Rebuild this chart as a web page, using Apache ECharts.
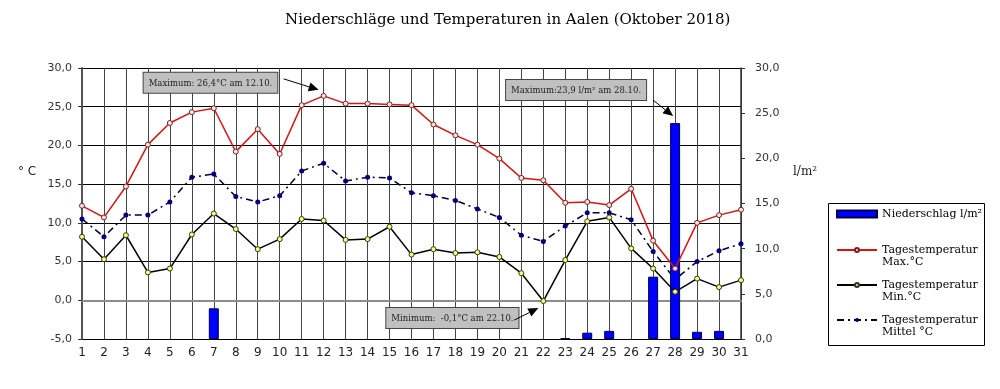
<!DOCTYPE html>
<html><head><meta charset="utf-8">
<script src="https://cdn.jsdelivr.net/npm/echarts@6/dist/echarts.min.js"></script>
<style>html,body{margin:0;padding:0;background:#fff}#c{width:1000px;height:389px}</style>
</head><body><div id="c"></div>
<script>
const days = ['1','2','3','4','5','6','7','8','9','10','11','12','13','14','15','16','17','18','19','20','21','22','23','24','25','26','27','28','29','30','31'];
const precip = [null,null,null,null,null,null,3.4,null,null,null,null,null,null,null,null,null,null,null,null,null,null,null,0.1,0.7,0.9,null,6.9,23.9,0.8,0.9,null];
const tMax = [12.2,10.7,14.7,20.1,22.9,24.3,24.8,19.2,22.1,18.9,25.2,26.4,25.4,25.4,25.3,25.2,22.7,21.3,20.1,18.3,15.8,15.5,12.6,12.7,12.3,14.4,7.7,4.1,10.0,11.0,11.7];
const tMin = [8.2,5.3,8.4,3.6,4.1,8.5,11.2,9.2,6.6,7.9,10.5,10.3,7.8,7.9,9.5,5.9,6.6,6.1,6.2,5.6,3.5,-0.1,5.2,10.2,10.7,6.7,4.1,1.1,2.8,1.7,2.6];
const tMean = [10.5,8.2,11.0,11.0,12.7,15.9,16.3,13.4,12.7,13.5,16.7,17.7,15.4,15.9,15.8,13.9,13.5,12.9,11.8,10.7,8.4,7.6,9.6,11.3,11.3,10.4,6.3,2.7,5.0,6.4,7.3];
const names = ['Niederschlag l/m²','Tagestemperatur\nMax.°C','Tagestemperatur\nMin.°C','Tagestemperatur\nMittel °C'];

const fmt = v => v.toFixed(1).replace('.', ',');
const chart = echarts.init(document.getElementById('c'));
const serif = 'DejaVu Serif';
const sans = 'DejaVu Sans';

chart.setOption({
  animation: false,
  backgroundColor: '#fff',
  title: {
    text: 'Niederschläge und Temperaturen in Aalen (Oktober 2018)',
    left: 280, top: 8,
    textStyle: {fontFamily: serif, fontWeight: 'normal', fontSize: 15, color: '#000'}
  },
  grid: {left: 82, right: 259, top: 68, bottom: 50},
  legend: [
    {data: [{name: names[0], icon: 'rect'}], orient: 'vertical', left: 836, top: 208, padding: 0,
     itemWidth: 40, itemHeight: 7, itemGap: 5,
     textStyle: {fontFamily: serif, fontSize: 11, color: '#000', lineHeight: 12}},
    {data: names.slice(1), orient: 'vertical', left: 836, top: 232, padding: 0,
     itemWidth: 40, itemHeight: 5, itemGap: -1,
     formatter: n => '\n' + n,
     textStyle: {fontFamily: serif, fontSize: 11, color: '#000', lineHeight: 12}}
  ],
  xAxis: {
    type: 'category', data: days, boundaryGap: false,
    axisLine: {lineStyle: {color: '#8c8c8c', width: 2}},
    axisTick: {show: false},
    axisLabel: {interval: 0, fontFamily: sans, fontSize: 12, color: '#222', margin: 8},
    splitLine: {show: true, interval: 0, lineStyle: {color: '#444', width: 1}}
  },
  yAxis: [
    {type: 'value', min: -5, max: 30, interval: 5, position: 'left',
     axisLine: {show: true, lineStyle: {color: '#555', width: 2}},
     axisTick: {show: true, length: 4, lineStyle: {color: '#333'}},
     axisLabel: {formatter: fmt, fontFamily: sans, fontSize: 11, color: '#333', margin: 10},
     splitLine: {show: true, lineStyle: {color: '#000', width: 1}}},
    {type: 'value', min: 0, max: 30, interval: 5, position: 'right',
     axisLine: {show: true, lineStyle: {color: '#333', width: 1.5}},
     axisTick: {show: true, length: 4, lineStyle: {color: '#333'}},
     axisLabel: {formatter: fmt, fontFamily: sans, fontSize: 11, color: '#333', margin: 14},
     splitLine: {show: false}}
  ],
  series: [
    {name: names[0], type: 'bar', yAxisIndex: 1, data: precip, barWidth: 10, z: 3,
     itemStyle: {color: '#0000ff', borderColor: '#000050', borderWidth: 1}},
    {name: names[1], type: 'line', data: tMax, z: 4, symbol: 'circle', symbolSize: 5,
     lineStyle: {color: '#e01010', width: 1.5},
     itemStyle: {color: '#f3e4e4', borderColor: '#7a2020', borderWidth: 1}},
    {name: names[2], type: 'line', data: tMin, z: 4, symbol: 'circle', symbolSize: 5,
     lineStyle: {color: '#000', width: 1.5},
     itemStyle: {color: '#ffff66', borderColor: '#333', borderWidth: 1}},
    {name: names[3], type: 'line', data: tMean, z: 2, symbol: 'circle', symbolSize: 5,
     lineStyle: {color: '#000033', width: 1.5, type: [7, 4, 2, 4]},
     itemStyle: {color: '#000080', borderColor: '#000080', borderWidth: 0}}
  ]
});

function arrow(x1, y1, x2, y2) {
  const a = Math.atan2(y2 - y1, x2 - x1), L = 10, W = 4.5;
  const bx = x2 - L * Math.cos(a), by = y2 - L * Math.sin(a);
  const nx = -Math.sin(a) * W, ny = Math.cos(a) * W;
  return [
    {type: 'line', shape: {x1: x1, y1: y1, x2: bx, y2: by}, style: {stroke: '#000', lineWidth: 1}, z: 10},
    {type: 'polygon', shape: {points: [[x2, y2], [bx + nx, by + ny], [bx - nx, by - ny]]}, style: {fill: '#000'}, z: 10}
  ];
}
function box(x, y, text) {
  return {type: 'text', x: x, y: y, z: 10,
    style: {text: text, font: '8.5px "DejaVu Serif"', fill: '#222', backgroundColor: '#c0c0c0',
      borderColor: '#444', borderWidth: 1, padding: [6, 5, 5, 5], align: 'left', verticalAlign: 'top'}};
}

const iMax = tMax.indexOf(Math.max(...tMax));
const iMin = tMin.indexOf(Math.min(...tMin));
const pVals = precip.map(v => v == null ? -1 : v);
const iP = pVals.indexOf(Math.max(...pVals));
const p1 = chart.convertToPixel({xAxisIndex: 0, yAxisIndex: 0}, [iMax, tMax[iMax]]);
const p2 = chart.convertToPixel({xAxisIndex: 0, yAxisIndex: 1}, [iP, precip[iP]]);
const p3 = chart.convertToPixel({xAxisIndex: 0, yAxisIndex: 0}, [iMin, tMin[iMin]]);

const g = [
  {type: 'rect', shape: {x: 828.5, y: 203.5, width: 156, height: 142}, style: {fill: 'none', stroke: '#000', lineWidth: 1}},
  {type: 'text', x: 18, y: 172, style: {text: '° C', font: '12px "DejaVu Sans"', fill: '#222', verticalAlign: 'middle'}},
  {type: 'text', x: 793, y: 172, style: {text: 'l/m²', font: '12px "DejaVu Serif"', fill: '#222', verticalAlign: 'middle'}},
  box(p1[0] - 180, p1[1] - 23, 'Maximum: ' + fmt(tMax[iMax]) + '°C am ' + days[iMax] + '.10.'),
  ...arrow(p1[0] - 40, p1[1] - 17, p1[0] - 5, p1[1] - 6),
  box(p2[0] - 169, p2[1] - 43, 'Maximum:' + fmt(precip[iP]) + ' l/m² am ' + days[iP] + '.10.'),
  ...arrow(p2[0] - 22, p2[1] - 23, p2[0] - 2, p2[1] - 7),
  box(p3[0] - 157, p3[1] + 7, 'Minimum:  ' + fmt(tMin[iMin]) + '°C am ' + days[iMin] + '.10.'),
  ...arrow(p3[0] - 29, p3[1] + 19, p3[0] - 5, p3[1] + 7)
];
chart.setOption({graphic: g});
</script></body></html>
